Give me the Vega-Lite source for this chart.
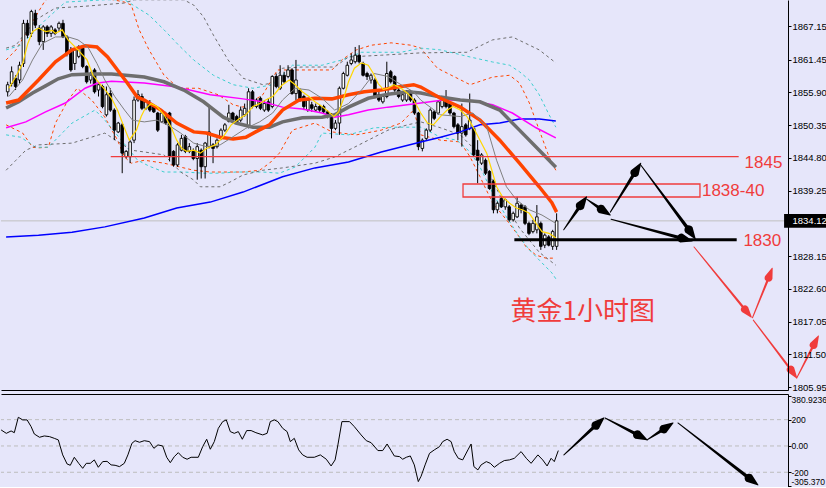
{
"$schema":"https://vega.github.io/schema/vega-lite/v6.json",
"usermeta":{"embedOptions":{"actions":false}},
"background":"#E6E6FA",
"padding":0,
"spacing":2,
"config":{"view":{"stroke":null},"axis":{"grid":false,"labelFont":"Liberation Sans","labelOverlap":false}},
"datasets":{
"candles":[
{"i":0,"o":1856.0,"h":1857.7,"l":1855.2,"c":1857.2},{"i":1,"o":1857.4,"h":1860.3,"l":1856.9,"c":1859.4},{"i":2,"o":1858.3,"h":1858.8,"l":1856.3,"c":1856.9},{"i":3,"o":1858.0,"h":1861.1,"l":1857.4,"c":1860.5},{"i":4,"o":1860.8,"h":1868.2,"l":1860.2,"c":1867.6},{"i":5,"o":1867.6,"h":1868.2,"l":1865.1,"c":1865.6},{"i":6,"o":1865.9,"h":1869.9,"l":1865.3,"c":1869.6},{"i":7,"o":1869.3,"h":1869.9,"l":1866.8,"c":1867.3},{"i":8,"o":1866.8,"h":1867.3,"l":1863.9,"c":1864.5},{"i":9,"o":1864.5,"h":1867.3,"l":1863.1,"c":1867.0},
{"i":10,"o":1867.0,"h":1867.3,"l":1865.3,"c":1865.9},{"i":11,"o":1865.9,"h":1867.3,"l":1865.3,"c":1867.0},{"i":12,"o":1866.5,"h":1866.8,"l":1865.6,"c":1865.9},{"i":13,"o":1866.8,"h":1867.9,"l":1866.2,"c":1867.6},{"i":14,"o":1867.6,"h":1868.2,"l":1865.1,"c":1865.3},{"i":15,"o":1865.3,"h":1865.6,"l":1862.0,"c":1862.5},{"i":16,"o":1863.1,"h":1863.6,"l":1859.4,"c":1859.7},{"i":17,"o":1860.8,"h":1863.4,"l":1859.7,"c":1863.1},{"i":18,"o":1862.0,"h":1863.9,"l":1861.7,"c":1863.6},{"i":19,"o":1863.4,"h":1863.6,"l":1860.0,"c":1860.3},
{"i":20,"o":1860.3,"h":1860.5,"l":1857.4,"c":1857.7},{"i":21,"o":1858.0,"h":1859.4,"l":1857.4,"c":1858.8},{"i":22,"o":1859.7,"h":1860.0,"l":1855.7,"c":1856.0},{"i":23,"o":1856.3,"h":1857.4,"l":1855.2,"c":1857.2},{"i":24,"o":1856.9,"h":1857.2,"l":1853.2,"c":1853.5},{"i":25,"o":1852.1,"h":1856.9,"l":1851.8,"c":1855.5},{"i":26,"o":1855.7,"h":1856.6,"l":1852.6,"c":1852.9},{"i":27,"o":1852.9,"h":1853.2,"l":1847.8,"c":1849.5},{"i":28,"o":1849.2,"h":1850.9,"l":1849.0,"c":1850.7},{"i":29,"o":1850.4,"h":1850.7,"l":1842.2,"c":1845.6},
{"i":30,"o":1845.0,"h":1846.1,"l":1844.7,"c":1845.9},{"i":31,"o":1845.0,"h":1847.8,"l":1843.9,"c":1847.5},{"i":32,"o":1847.8,"h":1855.2,"l":1847.3,"c":1854.6},{"i":33,"o":1854.6,"h":1856.3,"l":1854.3,"c":1855.5},{"i":34,"o":1855.2,"h":1855.7,"l":1852.9,"c":1853.2},{"i":35,"o":1853.2,"h":1854.6,"l":1852.9,"c":1854.3},{"i":36,"o":1854.0,"h":1854.6,"l":1852.6,"c":1852.9},{"i":37,"o":1853.5,"h":1853.8,"l":1852.4,"c":1852.6},{"i":38,"o":1852.4,"h":1852.6,"l":1849.2,"c":1849.5},{"i":39,"o":1850.9,"h":1852.9,"l":1850.7,"c":1852.4},
{"i":40,"o":1852.1,"h":1852.6,"l":1850.4,"c":1850.7},{"i":41,"o":1852.4,"h":1852.6,"l":1844.2,"c":1845.0},{"i":42,"o":1845.9,"h":1846.1,"l":1843.3,"c":1843.6},{"i":43,"o":1843.6,"h":1847.3,"l":1843.3,"c":1847.0},{"i":44,"o":1846.1,"h":1848.7,"l":1845.9,"c":1848.1},{"i":45,"o":1848.4,"h":1848.7,"l":1845.6,"c":1845.9},{"i":46,"o":1845.9,"h":1847.3,"l":1845.6,"c":1846.7},{"i":47,"o":1845.9,"h":1846.4,"l":1844.4,"c":1844.7},{"i":48,"o":1844.7,"h":1847.3,"l":1841.1,"c":1846.7},{"i":49,"o":1846.1,"h":1846.4,"l":1841.3,"c":1843.3},
{"i":50,"o":1843.3,"h":1847.5,"l":1841.3,"c":1847.3},{"i":51,"o":1846.7,"h":1853.5,"l":1846.4,"c":1849.2},{"i":52,"o":1847.0,"h":1847.3,"l":1843.9,"c":1846.4},{"i":53,"o":1846.7,"h":1848.1,"l":1846.4,"c":1847.8},{"i":54,"o":1848.1,"h":1849.8,"l":1847.8,"c":1849.5},{"i":55,"o":1849.5,"h":1850.7,"l":1849.2,"c":1850.4},{"i":56,"o":1851.0,"h":1853.8,"l":1850.8,"c":1852.4},{"i":57,"o":1852.4,"h":1852.6,"l":1850.9,"c":1851.2},{"i":58,"o":1851.8,"h":1852.1,"l":1850.4,"c":1850.7},{"i":59,"o":1851.2,"h":1853.5,"l":1850.9,"c":1852.9},
{"i":60,"o":1852.1,"h":1854.0,"l":1851.8,"c":1853.2},{"i":61,"o":1850.1,"h":1856.6,"l":1849.8,"c":1856.0},{"i":62,"o":1856.0,"h":1856.3,"l":1853.2,"c":1853.5},{"i":63,"o":1853.5,"h":1854.9,"l":1853.2,"c":1854.6},{"i":64,"o":1854.9,"h":1855.2,"l":1852.9,"c":1853.2},{"i":65,"o":1852.9,"h":1854.6,"l":1852.6,"c":1854.0},{"i":66,"o":1854.3,"h":1854.9,"l":1852.6,"c":1852.9},{"i":67,"o":1853.5,"h":1858.8,"l":1853.2,"c":1858.6},{"i":68,"o":1858.6,"h":1859.1,"l":1856.6,"c":1856.9},{"i":69,"o":1856.6,"h":1860.5,"l":1856.3,"c":1858.8},
{"i":70,"o":1858.8,"h":1859.4,"l":1857.4,"c":1857.7},{"i":71,"o":1858.6,"h":1860.5,"l":1858.3,"c":1859.7},{"i":72,"o":1859.7,"h":1860.0,"l":1855.5,"c":1855.7},{"i":73,"o":1855.7,"h":1861.4,"l":1854.6,"c":1858.0},{"i":74,"o":1856.3,"h":1856.6,"l":1854.3,"c":1854.6},{"i":75,"o":1855.2,"h":1855.5,"l":1852.9,"c":1853.5},{"i":76,"o":1852.9,"h":1854.9,"l":1852.6,"c":1854.6},{"i":77,"o":1853.8,"h":1854.3,"l":1852.6,"c":1853.2},{"i":78,"o":1852.9,"h":1854.0,"l":1852.6,"c":1853.5},{"i":79,"o":1853.5,"h":1853.8,"l":1852.6,"c":1852.9},
{"i":80,"o":1853.5,"h":1853.8,"l":1852.4,"c":1852.6},{"i":81,"o":1852.6,"h":1852.9,"l":1851.5,"c":1851.8},{"i":82,"o":1852.1,"h":1852.4,"l":1848.1,"c":1849.8},{"i":83,"o":1849.8,"h":1851.2,"l":1849.5,"c":1850.7},{"i":84,"o":1850.7,"h":1856.9,"l":1848.7,"c":1856.6},{"i":85,"o":1856.6,"h":1859.4,"l":1856.4,"c":1859.1},{"i":86,"o":1858.8,"h":1861.1,"l":1858.6,"c":1860.5},{"i":87,"o":1860.8,"h":1862.5,"l":1860.5,"c":1861.4},{"i":88,"o":1861.1,"h":1863.6,"l":1860.8,"c":1862.2},{"i":89,"o":1862.2,"h":1863.9,"l":1860.8,"c":1861.1},
{"i":90,"o":1860.8,"h":1861.1,"l":1858.6,"c":1858.8},{"i":91,"o":1859.1,"h":1859.4,"l":1858.0,"c":1858.6},{"i":92,"o":1858.0,"h":1859.1,"l":1857.4,"c":1858.8},{"i":93,"o":1858.0,"h":1858.3,"l":1854.9,"c":1855.2},{"i":94,"o":1855.5,"h":1856.0,"l":1854.3,"c":1854.6},{"i":95,"o":1854.3,"h":1855.5,"l":1854.0,"c":1855.2},{"i":96,"o":1855.2,"h":1861.1,"l":1854.9,"c":1859.1},{"i":97,"o":1859.4,"h":1859.7,"l":1857.4,"c":1857.7},{"i":98,"o":1858.6,"h":1858.8,"l":1856.0,"c":1856.3},{"i":99,"o":1856.3,"h":1856.6,"l":1854.9,"c":1855.2},
{"i":100,"o":1854.6,"h":1855.7,"l":1854.3,"c":1855.5},{"i":101,"o":1854.6,"h":1856.3,"l":1854.3,"c":1856.0},{"i":102,"o":1855.7,"h":1856.3,"l":1854.3,"c":1854.6},{"i":103,"o":1854.6,"h":1854.9,"l":1852.1,"c":1852.4},{"i":104,"o":1852.4,"h":1852.6,"l":1846.1,"c":1846.7},{"i":105,"o":1846.4,"h":1848.1,"l":1845.9,"c":1847.8},{"i":106,"o":1848.1,"h":1849.8,"l":1847.8,"c":1849.5},{"i":107,"o":1849.5,"h":1853.2,"l":1849.2,"c":1852.9},{"i":108,"o":1852.6,"h":1852.9,"l":1851.2,"c":1851.5},{"i":109,"o":1852.4,"h":1854.6,"l":1852.1,"c":1854.3},
{"i":110,"o":1853.5,"h":1855.2,"l":1853.2,"c":1854.6},{"i":111,"o":1854.9,"h":1856.3,"l":1853.2,"c":1853.5},{"i":112,"o":1854.0,"h":1854.3,"l":1852.1,"c":1852.4},{"i":113,"o":1852.4,"h":1852.6,"l":1849.8,"c":1850.1},{"i":114,"o":1850.4,"h":1850.7,"l":1847.8,"c":1849.0},{"i":115,"o":1849.0,"h":1854.0,"l":1846.7,"c":1850.1},{"i":116,"o":1850.4,"h":1850.7,"l":1848.4,"c":1848.7},{"i":117,"o":1849.8,"h":1855.7,"l":1849.5,"c":1851.2},{"i":118,"o":1849.8,"h":1850.1,"l":1845.0,"c":1845.3},{"i":119,"o":1846.1,"h":1847.8,"l":1840.5,"c":1844.4},
{"i":120,"o":1843.9,"h":1845.6,"l":1843.6,"c":1845.3},{"i":121,"o":1844.4,"h":1844.7,"l":1841.9,"c":1842.2},{"i":122,"o":1842.5,"h":1842.7,"l":1839.4,"c":1839.6},{"i":123,"o":1840.8,"h":1841.1,"l":1835.4,"c":1836.0},{"i":124,"o":1836.0,"h":1837.4,"l":1835.4,"c":1837.1},{"i":125,"o":1837.9,"h":1838.2,"l":1836.3,"c":1836.5},{"i":126,"o":1836.5,"h":1837.9,"l":1836.0,"c":1837.7},{"i":127,"o":1836.5,"h":1836.8,"l":1834.0,"c":1834.3},{"i":128,"o":1834.3,"h":1835.7,"l":1834.0,"c":1835.4},{"i":129,"o":1834.8,"h":1838.2,"l":1834.6,"c":1837.1},
{"i":130,"o":1836.8,"h":1837.1,"l":1835.4,"c":1836.0},{"i":131,"o":1836.5,"h":1836.8,"l":1833.4,"c":1833.7},{"i":132,"o":1833.7,"h":1834.0,"l":1831.7,"c":1832.0},{"i":133,"o":1832.3,"h":1834.3,"l":1832.0,"c":1833.7},{"i":134,"o":1832.6,"h":1836.8,"l":1832.0,"c":1834.8},{"i":135,"o":1833.7,"h":1834.0,"l":1829.2,"c":1829.8},{"i":136,"o":1830.0,"h":1832.0,"l":1829.5,"c":1831.7},{"i":137,"o":1831.4,"h":1831.7,"l":1829.8,"c":1830.0},{"i":138,"o":1829.8,"h":1832.6,"l":1829.2,"c":1832.3},{"i":139,"o":1829.8,"h":1835.4,"l":1829.2,"c":1834.12}
],
"bands":[
{"s":"bb1u","i":-0.4,"p":1861.4},{"s":"bb1u","i":2.1,"p":1863.1},{"s":"bb1u","i":5.8,"p":1867.3},{"s":"bb1u","i":9.6,"p":1871.6},{"s":"bb1u","i":14.6,"p":1872.1},{"s":"bb1u","i":24.6,"p":1871.9},{"s":"bb1u","i":29.6,"p":1871.2},{"s":"bb1u","i":31.3,"p":1870.7},{"s":"bb1u","i":33.3,"p":1866.5},{"s":"bb1u","i":35.8,"p":1863.1},{"s":"bb1u","i":39.6,"p":1858.8},{"s":"bb1u","i":43.3,"p":1856.6},{"s":"bb1u","i":48.3,"p":1856.6},{"s":"bb1u","i":53.3,"p":1855.5},{"s":"bb1u","i":57.1,"p":1853.8},{"s":"bb1u","i":59.6,"p":1853.4},{"s":"bb1u","i":64.6,"p":1855.5},{"s":"bb1u","i":68.3,"p":1859.7},{"s":"bb1u","i":72.1,"p":1859.7},{"s":"bb1u","i":82.1,"p":1859.7},{"s":"bb1u","i":84.6,"p":1861.4},{"s":"bb1u","i":88.3,"p":1863.1},{"s":"bb1u","i":92.1,"p":1863.9},{"s":"bb1u","i":97.1,"p":1864.3},{"s":"bb1u","i":102.1,"p":1863.9},{"s":"bb1u","i":104.6,"p":1863.4},{"s":"bb1u","i":108.8,"p":1860.0},{"s":"bb1u","i":117.1,"p":1857.2},{"s":"bb1u","i":122.8,"p":1858.5},{"s":"bb1u","i":127.1,"p":1858.8},{"s":"bb1u","i":129.6,"p":1857.5},{"s":"bb1u","i":132.1,"p":1854.1},{"s":"bb1u","i":134.6,"p":1849.5},{"s":"bb1u","i":137.1,"p":1844.95},{"s":"bb1u","i":138.8,"p":1842.7},
{"s":"bb1l","i":-0.4,"p":1850.4},{"s":"bb1l","i":3.8,"p":1849.0},{"s":"bb1l","i":6.3,"p":1846.6},{"s":"bb1l","i":7.8,"p":1846.5},{"s":"bb1l","i":10.3,"p":1846.6},{"s":"bb1l","i":12.1,"p":1850.7},{"s":"bb1l","i":15.3,"p":1854.6},{"s":"bb1l","i":17.6,"p":1856.6},{"s":"bb1l","i":21.3,"p":1854.6},{"s":"bb1l","i":24.6,"p":1851.7},{"s":"bb1l","i":27.8,"p":1847.8},{"s":"bb1l","i":29.6,"p":1844.95},{"s":"bb1l","i":31.3,"p":1843.9},{"s":"bb1l","i":34.6,"p":1844.4},{"s":"bb1l","i":39.6,"p":1843.9},{"s":"bb1l","i":47.1,"p":1842.7},{"s":"bb1l","i":51.3,"p":1842.4},{"s":"bb1l","i":59.6,"p":1842.4},{"s":"bb1l","i":63.8,"p":1842.7},{"s":"bb1l","i":66.3,"p":1843.9},{"s":"bb1l","i":68.8,"p":1845.6},{"s":"bb1l","i":72.1,"p":1849.5},{"s":"bb1l","i":77.8,"p":1850.7},{"s":"bb1l","i":82.1,"p":1849.2},{"s":"bb1l","i":88.3,"p":1848.7},{"s":"bb1l","i":94.6,"p":1849.5},{"s":"bb1l","i":99.6,"p":1850.7},{"s":"bb1l","i":102.8,"p":1852.9},{"s":"bb1l","i":104.6,"p":1848.7},{"s":"bb1l","i":109.6,"p":1847.8},{"s":"bb1l","i":114.6,"p":1847.5},{"s":"bb1l","i":117.1,"p":1844.95},{"s":"bb1l","i":119.6,"p":1841.6},{"s":"bb1l","i":122.8,"p":1837.15},{"s":"bb1l","i":126.3,"p":1834.3},{"s":"bb1l","i":128.8,"p":1832.1},{"s":"bb1l","i":131.3,"p":1829.7},{"s":"bb1l","i":133.8,"p":1828.3},{"s":"bb1l","i":136.3,"p":1827.8},{"s":"bb1l","i":138.8,"p":1827.8},
{"s":"bb2u","i":-0.4,"p":1863.1},{"s":"bb2u","i":3.3,"p":1863.9},{"s":"bb2u","i":9.6,"p":1868.2},{"s":"bb2u","i":14.6,"p":1871.2},{"s":"bb2u","i":24.6,"p":1871.6},{"s":"bb2u","i":29.6,"p":1871.6},{"s":"bb2u","i":35.8,"p":1869.0},{"s":"bb2u","i":39.6,"p":1866.5},{"s":"bb2u","i":43.3,"p":1863.9},{"s":"bb2u","i":47.1,"p":1861.4},{"s":"bb2u","i":52.1,"p":1858.8},{"s":"bb2u","i":57.1,"p":1857.2},{"s":"bb2u","i":62.1,"p":1856.6},{"s":"bb2u","i":67.1,"p":1857.2},{"s":"bb2u","i":72.1,"p":1860.5},{"s":"bb2u","i":79.6,"p":1860.5},{"s":"bb2u","i":84.6,"p":1861.4},{"s":"bb2u","i":89.6,"p":1862.7},{"s":"bb2u","i":99.6,"p":1862.7},{"s":"bb2u","i":104.6,"p":1863.4},{"s":"bb2u","i":109.6,"p":1863.1},{"s":"bb2u","i":117.1,"p":1861.9},{"s":"bb2u","i":122.8,"p":1861.05},{"s":"bb2u","i":127.1,"p":1860.5},{"s":"bb2u","i":129.6,"p":1859.4},{"s":"bb2u","i":132.1,"p":1858.0},{"s":"bb2u","i":134.6,"p":1855.5},{"s":"bb2u","i":137.1,"p":1852.1},{"s":"bb2u","i":138.8,"p":1850.0},
{"s":"bb2l","i":-0.4,"p":1848.7},{"s":"bb2l","i":3.3,"p":1848.3},{"s":"bb2l","i":7.1,"p":1846.6},{"s":"bb2l","i":10.3,"p":1846.6},{"s":"bb2l","i":16.3,"p":1850.7},{"s":"bb2l","i":22.1,"p":1852.9},{"s":"bb2l","i":24.6,"p":1851.2},{"s":"bb2l","i":28.8,"p":1847.8},{"s":"bb2l","i":32.9,"p":1844.4},{"s":"bb2l","i":35.8,"p":1843.4},{"s":"bb2l","i":39.6,"p":1842.4},{"s":"bb2l","i":44.6,"p":1842.4},{"s":"bb2l","i":49.6,"p":1842.2},{"s":"bb2l","i":53.8,"p":1842.2},{"s":"bb2l","i":57.8,"p":1842.4},{"s":"bb2l","i":64.6,"p":1842.4},{"s":"bb2l","i":68.8,"p":1842.2},{"s":"bb2l","i":72.8,"p":1843.25},{"s":"bb2l","i":77.8,"p":1846.6},{"s":"bb2l","i":79.6,"p":1849.0},{"s":"bb2l","i":86.3,"p":1848.7},{"s":"bb2l","i":92.8,"p":1849.9},{"s":"bb2l","i":98.8,"p":1850.0},{"s":"bb2l","i":104.6,"p":1850.0},{"s":"bb2l","i":109.6,"p":1848.3},{"s":"bb2l","i":113.8,"p":1847.8},{"s":"bb2l","i":117.1,"p":1845.8},{"s":"bb2l","i":119.6,"p":1843.25},{"s":"bb2l","i":122.8,"p":1838.85},{"s":"bb2l","i":126.3,"p":1834.8},{"s":"bb2l","i":129.6,"p":1831.4},{"s":"bb2l","i":132.1,"p":1829.2},{"s":"bb2l","i":135.3,"p":1827.0},{"s":"bb2l","i":137.8,"p":1825.3},{"s":"bb2l","i":139,"p":1824.1},
{"s":"bb3u","i":-0.4,"p":1863.4},{"s":"bb3u","i":2.1,"p":1863.9},{"s":"bb3u","i":7.1,"p":1868.2},{"s":"bb3u","i":12.1,"p":1870.2},{"s":"bb3u","i":19.6,"p":1870.5},{"s":"bb3u","i":29.6,"p":1871.05},{"s":"bb3u","i":32.1,"p":1871.6},{"s":"bb3u","i":44.6,"p":1871.6},{"s":"bb3u","i":47.1,"p":1870.7},{"s":"bb3u","i":49.6,"p":1868.7},{"s":"bb3u","i":52.1,"p":1865.6},{"s":"bb3u","i":55.8,"p":1861.4},{"s":"bb3u","i":59.6,"p":1858.3},{"s":"bb3u","i":64.6,"p":1857.2},{"s":"bb3u","i":67.1,"p":1857.5},{"s":"bb3u","i":69.6,"p":1860.0},{"s":"bb3u","i":74.6,"p":1860.2},{"s":"bb3u","i":82.8,"p":1860.2},{"s":"bb3u","i":86.3,"p":1861.9},{"s":"bb3u","i":94.6,"p":1862.2},{"s":"bb3u","i":104.6,"p":1862.6},{"s":"bb3u","i":116.3,"p":1862.7},{"s":"bb3u","i":122.8,"p":1864.8},{"s":"bb3u","i":127.8,"p":1865.3},{"s":"bb3u","i":134.6,"p":1863.1},{"s":"bb3u","i":138.8,"p":1860.9},
{"s":"bb3l","i":-0.4,"p":1842.7},{"s":"bb3l","i":2.1,"p":1844.4},{"s":"bb3l","i":4.6,"p":1846.1},{"s":"bb3l","i":7.8,"p":1847.0},{"s":"bb3l","i":16.3,"p":1847.3},{"s":"bb3l","i":24.6,"p":1849.0},{"s":"bb3l","i":31.3,"p":1846.1},{"s":"bb3l","i":34.6,"p":1845.8},{"s":"bb3l","i":39.6,"p":1845.3},{"s":"bb3l","i":43.8,"p":1842.4},{"s":"bb3l","i":47.1,"p":1841.05},{"s":"bb3l","i":48.8,"p":1839.9},{"s":"bb3l","i":53.8,"p":1839.9},{"s":"bb3l","i":56.3,"p":1840.7},{"s":"bb3l","i":59.6,"p":1841.9},{"s":"bb3l","i":64.6,"p":1842.7},{"s":"bb3l","i":69.6,"p":1843.1},{"s":"bb3l","i":77.8,"p":1843.9},{"s":"bb3l","i":82.8,"p":1844.95},{"s":"bb3l","i":87.8,"p":1846.6},{"s":"bb3l","i":91.3,"p":1847.8},{"s":"bb3l","i":96.3,"p":1849.5},{"s":"bb3l","i":101.3,"p":1850.4},{"s":"bb3l","i":104.6,"p":1850.9},{"s":"bb3l","i":109.6,"p":1849.9},{"s":"bb3l","i":114.6,"p":1848.7},{"s":"bb3l","i":119.6,"p":1845.3},{"s":"bb3l","i":124.6,"p":1838.5},{"s":"bb3l","i":129.6,"p":1832.9},{"s":"bb3l","i":134.6,"p":1828.8},{"s":"bb3l","i":138.8,"p":1826.6}
],
"mas":[
{"s":"ma200","i":-0.4,"p":1831.4},{"s":"ma200","i":7.8,"p":1831.7},{"s":"ma200","i":16.3,"p":1832.2},{"s":"ma200","i":24.6,"p":1833.1},{"s":"ma200","i":34.6,"p":1834.6},{"s":"ma200","i":42.8,"p":1836.3},{"s":"ma200","i":51.3,"p":1837.3},{"s":"ma200","i":59.6,"p":1839.0},{"s":"ma200","i":69.6,"p":1841.6},{"s":"ma200","i":77.8,"p":1843.1},{"s":"ma200","i":86.3,"p":1844.1},{"s":"ma200","i":94.6,"p":1845.8},{"s":"ma200","i":104.6,"p":1847.5},{"s":"ma200","i":109.6,"p":1848.3},{"s":"ma200","i":114.6,"p":1849.2},{"s":"ma200","i":119.6,"p":1850.4},{"s":"ma200","i":124.6,"p":1850.7},{"s":"ma200","i":129.6,"p":1851.4},{"s":"ma200","i":134.6,"p":1851.4},{"s":"ma200","i":138.8,"p":1851.05},
{"s":"ma100","i":-0.4,"p":1849.9},{"s":"ma100","i":4.6,"p":1850.9},{"s":"ma100","i":9.6,"p":1852.6},{"s":"ma100","i":14.6,"p":1854.1},{"s":"ma100","i":19.6,"p":1856.6},{"s":"ma100","i":22.8,"p":1857.5},{"s":"ma100","i":26.3,"p":1857.8},{"s":"ma100","i":34.6,"p":1857.5},{"s":"ma100","i":42.8,"p":1856.8},{"s":"ma100","i":51.3,"p":1855.5},{"s":"ma100","i":59.6,"p":1854.8},{"s":"ma100","i":64.6,"p":1854.3},{"s":"ma100","i":69.6,"p":1853.4},{"s":"ma100","i":74.6,"p":1853.1},{"s":"ma100","i":79.6,"p":1852.4},{"s":"ma100","i":82.8,"p":1851.7},{"s":"ma100","i":86.3,"p":1852.1},{"s":"ma100","i":91.3,"p":1852.9},{"s":"ma100","i":96.3,"p":1853.4},{"s":"ma100","i":104.6,"p":1854.1},{"s":"ma100","i":110.3,"p":1854.6},{"s":"ma100","i":116.3,"p":1854.6},{"s":"ma100","i":122.8,"p":1853.8},{"s":"ma100","i":127.8,"p":1852.4},{"s":"ma100","i":133.8,"p":1849.9},{"s":"ma100","i":138.8,"p":1848.2},
{"s":"ma60","i":-0.4,"p":1853.25},{"s":"ma60","i":2.8,"p":1854.3},{"s":"ma60","i":6.3,"p":1855.8},{"s":"ma60","i":9.6,"p":1857.0},{"s":"ma60","i":12.8,"p":1858.2},{"s":"ma60","i":16.3,"p":1858.9},{"s":"ma60","i":21.3,"p":1859.0},{"s":"ma60","i":26.3,"p":1859.0},{"s":"ma60","i":31.3,"p":1858.7},{"s":"ma60","i":34.6,"p":1858.5},{"s":"ma60","i":39.6,"p":1857.7},{"s":"ma60","i":44.6,"p":1856.3},{"s":"ma60","i":49.6,"p":1854.3},{"s":"ma60","i":54.6,"p":1851.7},{"s":"ma60","i":57.8,"p":1850.7},{"s":"ma60","i":62.1,"p":1850.0},{"s":"ma60","i":66.3,"p":1850.0},{"s":"ma60","i":69.6,"p":1850.9},{"s":"ma60","i":74.6,"p":1851.6},{"s":"ma60","i":79.6,"p":1851.7},{"s":"ma60","i":82.8,"p":1852.1},{"s":"ma60","i":86.3,"p":1853.4},{"s":"ma60","i":91.3,"p":1854.9},{"s":"ma60","i":96.3,"p":1855.6},{"s":"ma60","i":101.3,"p":1856.0},{"s":"ma60","i":104.6,"p":1855.8},{"s":"ma60","i":109.6,"p":1855.1},{"s":"ma60","i":114.6,"p":1854.6},{"s":"ma60","i":119.6,"p":1854.3},{"s":"ma60","i":124.6,"p":1852.9},{"s":"ma60","i":129.6,"p":1849.5},{"s":"ma60","i":134.6,"p":1846.1},{"s":"ma60","i":138.8,"p":1843.2},
{"s":"ma20","i":-0.4,"p":1854.1},{"s":"ma20","i":2.8,"p":1854.6},{"s":"ma20","i":7.8,"p":1858.0},{"s":"ma20","i":12.1,"p":1861.1},{"s":"ma20","i":16.3,"p":1863.1},{"s":"ma20","i":19.6,"p":1863.8},{"s":"ma20","i":22.6,"p":1863.6},{"s":"ma20","i":25.3,"p":1861.9},{"s":"ma20","i":27.8,"p":1859.7},{"s":"ma20","i":30.3,"p":1857.5},{"s":"ma20","i":32.8,"p":1855.1},{"s":"ma20","i":34.6,"p":1854.6},{"s":"ma20","i":38.8,"p":1852.9},{"s":"ma20","i":42.8,"p":1850.7},{"s":"ma20","i":47.1,"p":1849.2},{"s":"ma20","i":50.3,"p":1849.0},{"s":"ma20","i":53.8,"p":1848.3},{"s":"ma20","i":57.1,"p":1848.0},{"s":"ma20","i":60.3,"p":1848.3},{"s":"ma20","i":62.8,"p":1849.2},{"s":"ma20","i":66.3,"p":1850.4},{"s":"ma20","i":69.6,"p":1852.9},{"s":"ma20","i":73.8,"p":1854.6},{"s":"ma20","i":77.8,"p":1854.9},{"s":"ma20","i":82.1,"p":1854.8},{"s":"ma20","i":86.3,"p":1855.5},{"s":"ma20","i":90.3,"p":1856.0},{"s":"ma20","i":94.6,"p":1856.3},{"s":"ma20","i":98.8,"p":1856.8},{"s":"ma20","i":102.8,"p":1857.2},{"s":"ma20","i":104.6,"p":1856.8},{"s":"ma20","i":109.6,"p":1854.9},{"s":"ma20","i":114.6,"p":1853.4},{"s":"ma20","i":119.6,"p":1851.2},{"s":"ma20","i":124.6,"p":1847.8},{"s":"ma20","i":129.6,"p":1843.9},{"s":"ma20","i":134.6,"p":1839.9},{"s":"ma20","i":137.8,"p":1837.2},{"s":"ma20","i":139,"p":1835.6},
{"s":"ma10","i":0.3,"p":1855.2},{"s":"ma10","i":3.8,"p":1858.0},{"s":"ma10","i":6.3,"p":1861.4},{"s":"ma10","i":8.8,"p":1864.2},{"s":"ma10","i":12.1,"p":1865.3},{"s":"ma10","i":15.3,"p":1865.3},{"s":"ma10","i":17.8,"p":1864.8},{"s":"ma10","i":20.3,"p":1863.6},{"s":"ma10","i":22.6,"p":1860.8},{"s":"ma10","i":24.6,"p":1858.0},{"s":"ma10","i":27.1,"p":1855.2},{"s":"ma10","i":29.6,"p":1852.9},{"s":"ma10","i":31.6,"p":1851.2},{"s":"ma10","i":34.6,"p":1850.9},{"s":"ma10","i":37.8,"p":1851.2},{"s":"ma10","i":41.3,"p":1850.1},{"s":"ma10","i":43.8,"p":1849.0},{"s":"ma10","i":47.1,"p":1847.3},{"s":"ma10","i":50.3,"p":1846.7},{"s":"ma10","i":53.8,"p":1847.0},{"s":"ma10","i":57.1,"p":1848.4},{"s":"ma10","i":60.3,"p":1849.8},{"s":"ma10","i":63.8,"p":1850.9},{"s":"ma10","i":67.1,"p":1852.4},{"s":"ma10","i":69.6,"p":1854.6},{"s":"ma10","i":72.8,"p":1856.6},{"s":"ma10","i":76.3,"p":1856.3},{"s":"ma10","i":79.6,"p":1854.9},{"s":"ma10","i":82.8,"p":1852.9},{"s":"ma10","i":86.3,"p":1854.0},{"s":"ma10","i":89.6,"p":1856.3},{"s":"ma10","i":92.8,"p":1859.1},{"s":"ma10","i":96.3,"p":1858.6},{"s":"ma10","i":99.6,"p":1857.2},{"s":"ma10","i":102.8,"p":1856.0},{"s":"ma10","i":104.6,"p":1854.6},{"s":"ma10","i":109.6,"p":1852.1},{"s":"ma10","i":114.6,"p":1851.8},{"s":"ma10","i":117.8,"p":1852.4},{"s":"ma10","i":121.3,"p":1850.1},{"s":"ma10","i":123.8,"p":1844.4},{"s":"ma10","i":126.3,"p":1839.9},{"s":"ma10","i":128.8,"p":1837.7},{"s":"ma10","i":132.1,"p":1836.0},{"s":"ma10","i":135.3,"p":1835.1},{"s":"ma10","i":138.8,"p":1833.7},
{"s":"ma5","i":0.3,"p":1856.6},{"s":"ma5","i":2.1,"p":1858.6},{"s":"ma5","i":3.8,"p":1860.8},{"s":"ma5","i":5.1,"p":1864.2},{"s":"ma5","i":6.3,"p":1866.2},{"s":"ma5","i":7.8,"p":1866.8},{"s":"ma5","i":9.6,"p":1866.2},{"s":"ma5","i":11.3,"p":1866.4},{"s":"ma5","i":12.1,"p":1865.9},{"s":"ma5","i":13.8,"p":1866.5},{"s":"ma5","i":15.3,"p":1864.8},{"s":"ma5","i":17.8,"p":1863.1},{"s":"ma5","i":20.1,"p":1861.4},{"s":"ma5","i":21.6,"p":1858.8},{"s":"ma5","i":23.3,"p":1857.4},{"s":"ma5","i":25.1,"p":1856.0},{"s":"ma5","i":26.3,"p":1854.9},{"s":"ma5","i":27.8,"p":1852.9},{"s":"ma5","i":29.6,"p":1849.8},{"s":"ma5","i":30.8,"p":1847.8},{"s":"ma5","i":32.6,"p":1849.5},{"s":"ma5","i":33.8,"p":1851.8},{"s":"ma5","i":34.6,"p":1852.9},{"s":"ma5","i":36.3,"p":1854.0},{"s":"ma5","i":37.8,"p":1853.5},{"s":"ma5","i":39.6,"p":1852.1},{"s":"ma5","i":41.3,"p":1850.1},{"s":"ma5","i":42.8,"p":1847.8},{"s":"ma5","i":44.1,"p":1846.4},{"s":"ma5","i":45.3,"p":1845.9},{"s":"ma5","i":47.1,"p":1846.1},{"s":"ma5","i":48.8,"p":1845.6},{"s":"ma5","i":50.3,"p":1846.4},{"s":"ma5","i":52.6,"p":1847.0},{"s":"ma5","i":54.6,"p":1848.4},{"s":"ma5","i":56.6,"p":1850.4},{"s":"ma5","i":58.8,"p":1851.5},{"s":"ma5","i":60.3,"p":1852.1},{"s":"ma5","i":62.1,"p":1853.5},{"s":"ma5","i":63.8,"p":1854.0},{"s":"ma5","i":65.3,"p":1854.6},{"s":"ma5","i":67.1,"p":1855.2},{"s":"ma5","i":68.8,"p":1856.6},{"s":"ma5","i":69.6,"p":1857.2},{"s":"ma5","i":71.3,"p":1858.0},{"s":"ma5","i":72.8,"p":1857.2},{"s":"ma5","i":74.6,"p":1856.0},{"s":"ma5","i":76.3,"p":1855.2},{"s":"ma5","i":77.8,"p":1854.3},{"s":"ma5","i":79.6,"p":1853.5},{"s":"ma5","i":81.3,"p":1852.6},{"s":"ma5","i":82.6,"p":1851.8},{"s":"ma5","i":83.8,"p":1852.6},{"s":"ma5","i":85.1,"p":1854.9},{"s":"ma5","i":86.3,"p":1857.7},{"s":"ma5","i":87.8,"p":1860.0},{"s":"ma5","i":89.6,"p":1860.9},{"s":"ma5","i":91.3,"p":1860.5},{"s":"ma5","i":92.6,"p":1859.1},{"s":"ma5","i":93.8,"p":1857.4},{"s":"ma5","i":95.1,"p":1856.4},{"s":"ma5","i":96.3,"p":1856.6},{"s":"ma5","i":97.8,"p":1857.2},{"s":"ma5","i":99.6,"p":1856.6},{"s":"ma5","i":101.3,"p":1855.7},{"s":"ma5","i":102.8,"p":1854.6},{"s":"ma5","i":104.6,"p":1852.4},{"s":"ma5","i":106.3,"p":1850.7},{"s":"ma5","i":107.8,"p":1850.4},{"s":"ma5","i":109.6,"p":1851.8},{"s":"ma5","i":111.3,"p":1852.9},{"s":"ma5","i":112.8,"p":1853.5},{"s":"ma5","i":114.6,"p":1852.9},{"s":"ma5","i":116.3,"p":1851.8},{"s":"ma5","i":117.8,"p":1850.1},{"s":"ma5","i":119.6,"p":1847.8},{"s":"ma5","i":121.3,"p":1845.6},{"s":"ma5","i":122.6,"p":1842.7},{"s":"ma5","i":123.8,"p":1839.9},{"s":"ma5","i":125.3,"p":1838.2},{"s":"ma5","i":127.1,"p":1837.1},{"s":"ma5","i":128.8,"p":1836.3},{"s":"ma5","i":130.3,"p":1836.0},{"s":"ma5","i":132.1,"p":1835.4},{"s":"ma5","i":133.8,"p":1833.7},{"s":"ma5","i":135.3,"p":1832.3},{"s":"ma5","i":137.1,"p":1832.0},{"s":"ma5","i":138.8,"p":1831.2}
],
"arrowsMain":[
{"seg":"a","k":0,"i":140.8,"p":1832.6,"part":"s0"},{"seg":"a","k":1,"i":145.0,"p":1836.7,"part":"s1"},{"seg":"ah","k":0,"i":145.0,"p":1836.7,"part":"h0"},{"seg":"ah","k":1,"i":146.6,"p":1838.2,"part":"h1"},
{"seg":"b","k":0,"i":146.6,"p":1837.8,"part":"s0"},{"seg":"b","k":1,"i":150.3,"p":1836.1,"part":"s1"},{"seg":"bh","k":0,"i":150.3,"p":1836.1,"part":"h0"},{"seg":"bh","k":1,"i":152.6,"p":1835.1,"part":"h1"},
{"seg":"c","k":0,"i":152.6,"p":1835.6,"part":"s0"},{"seg":"c","k":1,"i":158.8,"p":1842.3,"part":"s1"},{"seg":"ch","k":0,"i":158.8,"p":1842.3,"part":"h0"},{"seg":"ch","k":1,"i":160.3,"p":1843.9,"part":"h1"},
{"seg":"d","k":0,"i":160.3,"p":1843.6,"part":"s0"},{"seg":"d","k":1,"i":172.5,"p":1832.6,"part":"s1"},{"seg":"dh","k":0,"i":172.5,"p":1832.6,"part":"h0"},{"seg":"dh","k":1,"i":174.1,"p":1831.1,"part":"h1"},
{"seg":"e","k":0,"i":152.8,"p":1834.4,"part":"s0"},{"seg":"e","k":1,"i":170.6,"p":1831.2,"part":"s1"},{"seg":"eh","k":0,"i":170.6,"p":1831.2,"part":"h0"},{"seg":"eh","k":1,"i":173.3,"p":1830.7,"part":"h1"}
],
"arrowsRed":[
{"seg":"f","k":0,"i":173.8,"p":1829.7,"part":"r0"},{"seg":"f","k":1,"i":186.7,"p":1819.1,"part":"r1"},{"seg":"fh","k":0,"i":186.7,"p":1819.1,"part":"q0"},{"seg":"fh","k":1,"i":188.3,"p":1817.8,"part":"q1"},
{"seg":"g","k":0,"i":188.6,"p":1817.7,"part":"r0"},{"seg":"g","k":1,"i":192.7,"p":1824.5,"part":"r1"},{"seg":"gh","k":0,"i":192.7,"p":1824.5,"part":"q0"},{"seg":"gh","k":1,"i":193.6,"p":1826.1,"part":"q1"},
{"seg":"h","k":0,"i":188.8,"p":1817.3,"part":"r0"},{"seg":"h","k":1,"i":198.3,"p":1808.9,"part":"r1"},{"seg":"hh","k":0,"i":198.3,"p":1808.9,"part":"q0"},{"seg":"hh","k":1,"i":199.8,"p":1807.5,"part":"q1"},
{"seg":"j","k":0,"i":199.8,"p":1807.5,"part":"r0"},{"seg":"j","k":1,"i":204.1,"p":1813.1,"part":"r1"},{"seg":"jh","k":0,"i":204.1,"p":1813.1,"part":"q0"},{"seg":"jh","k":1,"i":205.3,"p":1814.6,"part":"q1"}
],
"arrowsCci":[
{"seg":"a","k":0,"i":140.3,"v":-68,"part":"s0"},{"seg":"a","k":1,"i":148.3,"v":156.8,"part":"s1"},{"seg":"ah","k":0,"i":148.3,"v":156.8,"part":"h0"},{"seg":"ah","k":1,"i":150.3,"v":213,"part":"h1"},
{"seg":"b","k":0,"i":150.6,"v":213,"part":"s0"},{"seg":"b","k":1,"i":158.7,"v":84.7,"part":"s1"},{"seg":"bh","k":0,"i":158.7,"v":84.7,"part":"h0"},{"seg":"bh","k":1,"i":161.1,"v":46,"part":"h1"},
{"seg":"c","k":0,"i":161.1,"v":46,"part":"s0"},{"seg":"c","k":1,"i":165.3,"v":129.4,"part":"s1"},{"seg":"ch","k":0,"i":165.3,"v":129.4,"part":"h0"},{"seg":"ch","k":1,"i":167.6,"v":175,"part":"h1"},
{"seg":"d","k":0,"i":168.8,"v":175,"part":"s0"},{"seg":"d","k":1,"i":186.6,"v":-244.8,"part":"s1"},{"seg":"dh","k":0,"i":186.6,"v":-244.8,"part":"h0"},{"seg":"dh","k":1,"i":188.8,"v":-296,"part":"h1"}
],
"cci":[
{"i":-0.4,"v":122},{"i":0.9,"v":96},{"i":2.1,"v":114},{"i":2.9,"v":101},{"i":3.9,"v":218},{"i":5.0,"v":198},{"i":6.1,"v":198},{"i":7.1,"v":147},{"i":7.9,"v":91},{"i":9.2,"v":66},{"i":10.4,"v":76},{"i":11.7,"v":71},{"i":12.9,"v":58},{"i":13.9,"v":46},{"i":15.0,"v":-68},{"i":16.1,"v":-137},{"i":16.9,"v":-147},{"i":17.9,"v":-86},{"i":19.0,"v":-132},{"i":20.0,"v":-170},{"i":20.9,"v":-132},{"i":21.9,"v":-132},{"i":22.9,"v":-106},{"i":23.9,"v":-162},{"i":25.0,"v":-119},{"i":26.1,"v":-117},{"i":27.1,"v":-144},{"i":28.1,"v":-147},{"i":29.2,"v":-157},{"i":30.4,"v":-132},{"i":31.3,"v":-68},{"i":32.3,"v":20},{"i":33.1,"v":40},{"i":34.2,"v":28},{"i":35.4,"v":40},{"i":36.7,"v":33},{"i":37.8,"v":-18},{"i":38.8,"v":8},{"i":40.0,"v":0},{"i":41.0,"v":-86},{"i":41.9,"v":-127},{"i":42.9,"v":-81},{"i":43.9,"v":-51},{"i":45.0,"v":-86},{"i":46.1,"v":-101},{"i":47.1,"v":-86},{"i":48.9,"v":-86},{"i":50.0,"v":-5},{"i":51.0,"v":51},{"i":51.9,"v":-25},{"i":52.9,"v":33},{"i":53.9,"v":134},{"i":55.0,"v":185},{"i":55.9,"v":198},{"i":56.9,"v":109},{"i":57.9,"v":96},{"i":58.9,"v":109},{"i":59.9,"v":51},{"i":61.0,"v":117},{"i":62.1,"v":117},{"i":63.3,"v":101},{"i":65.0,"v":84},{"i":66.1,"v":96},{"i":66.9,"v":185},{"i":67.9,"v":198},{"i":68.8,"v":185},{"i":70.0,"v":134},{"i":71.1,"v":109},{"i":71.9,"v":33},{"i":72.9,"v":58},{"i":74.0,"v":-30},{"i":75.0,"v":-68},{"i":76.1,"v":-86},{"i":77.9,"v":-86},{"i":79.4,"v":-68},{"i":80.9,"v":-101},{"i":82.1,"v":-152},{"i":83.1,"v":-106},{"i":83.8,"v":8},{"i":84.8,"v":185},{"i":86.7,"v":185},{"i":87.9,"v":147},{"i":89.6,"v":84},{"i":90.9,"v":40},{"i":92.1,"v":25},{"i":93.8,"v":-35},{"i":95.0,"v":-35},{"i":96.1,"v":15},{"i":97.1,"v":-35},{"i":97.9,"v":-76},{"i":99.2,"v":-81},{"i":100.0,"v":-101},{"i":100.9,"v":-86},{"i":101.9,"v":-76},{"i":102.9,"v":-144},{"i":103.9,"v":-271},{"i":104.6,"v":-230},{"i":105.6,"v":-144},{"i":106.7,"v":-56},{"i":107.9,"v":-30},{"i":109.2,"v":-5},{"i":110.0,"v":33},{"i":111.1,"v":51},{"i":112.1,"v":33},{"i":112.9,"v":-43},{"i":113.9,"v":-94},{"i":115.0,"v":-106},{"i":116.3,"v":-30},{"i":117.1,"v":15},{"i":117.8,"v":-157},{"i":118.8,"v":-182},{"i":119.6,"v":-144},{"i":120.9,"v":-119},{"i":121.9,"v":-132},{"i":122.9,"v":-162},{"i":124.2,"v":-132},{"i":125.4,"v":-111},{"i":126.7,"v":-106},{"i":127.9,"v":-94},{"i":129.6,"v":-43},{"i":130.9,"v":-94},{"i":132.1,"v":-132},{"i":133.8,"v":-68},{"i":135.0,"v":-106},{"i":136.1,"v":-152},{"i":137.1,"v":-94},{"i":137.9,"v":-119},{"i":138.9,"v":-35}
]
},
"vconcat":[
{
"width":787,"height":390,
"resolve":{"axis":{"x":"independent","y":"independent"}},
"layer":[
{"data":{"values":[{"p":1834.12}]},"mark":{"type":"rule","color":"#C0C0C0","strokeWidth":1},
 "encoding":{"y":{"field":"p","type":"quantitative","scale":{"domain":[1805.45,1871.56],"nice":false,"zero":false},
  "axis":{"orient":"right","title":null,"values":[1867.15,1861.45,1855.9,1850.35,1844.8,1839.25,1834.12,1828.15,1822.6,1817.05,1811.5,1805.95],"format":".2f","labelFontSize":9.5,"labelFont":"Liberation Sans","labelColor":{"condition":{"test":"datum.value == 1834.12","value":"#FFFFFF"},"value":"#000000"},"tickColor":"#000000","tickSize":3,"labelPadding":1,"domainColor":"#000000","labelOverlap":false,"labelFlush":false,"zindex":1}}}},
{"data":{"values":[{"i":196.6,"i2":208,"p":1835.3,"p2":1832.95}]},"mark":{"type":"rect","color":"#000000","clip":false},
 "encoding":{"x":{"field":"i","type":"quantitative","scale":{"domain":[-0.425,196.325],"nice":false,"zero":false},"axis":{"orient":"bottom","labels":false,"ticks":false,"title":null,"domainColor":"#000000","grid":false}},"x2":{"field":"i2"},"y":{"field":"p","type":"quantitative","scale":{"domain":[1805.45,1871.56],"nice":false,"zero":false},"axis":null},"y2":{"field":"p2"}}},
{"data":{"name":"bands"},"mark":{"type":"line","strokeDash":[3,3],"strokeWidth":1,"clip":true},
 "encoding":{"x":{"field":"i","type":"quantitative","scale":{"domain":[-0.425,196.325],"nice":false,"zero":false},"axis":null},"y":{"field":"p","type":"quantitative","scale":{"domain":[1805.45,1871.56],"nice":false,"zero":false},"axis":null},
 "color":{"field":"s","type":"nominal","scale":{"domain":["bb1u","bb1l","bb2u","bb2l","bb3u","bb3l","ma200","ma100","ma60","ma20","ma10","ma5"],"range":["#FF4500","#FF4500","#3CCFCF","#3CCFCF","#6E6E6E","#6E6E6E","#0000FF","#FF00FF","#6E6E6E","#FF4500","#808080","#FFD700"]},"legend":null},"order":{"field":"i"}}},
{"data":{"name":"candles"},"mark":{"type":"rule","color":"#000000","strokeWidth":1,"clip":true},
 "encoding":{"x":{"field":"i","type":"quantitative","scale":{"domain":[-0.425,196.325],"nice":false,"zero":false},"axis":null},"y":{"field":"l","type":"quantitative","scale":{"domain":[1805.45,1871.56],"nice":false,"zero":false},"axis":null},"y2":{"field":"h"}}},
{"data":{"name":"candles"},"mark":{"type":"bar","size":2.6,"stroke":"#000000","strokeWidth":0.9,"clip":true},
 "encoding":{"x":{"field":"i","type":"quantitative","scale":{"domain":[-0.425,196.325],"nice":false,"zero":false},"axis":null},"y":{"field":"o","type":"quantitative","scale":{"domain":[1805.45,1871.56],"nice":false,"zero":false},"axis":null},"y2":{"field":"c"},
 "fill":{"condition":{"test":"datum.c >= datum.o","value":"#FFFFFF"},"value":"#000000"}}},
{"data":{"name":"mas"},"mark":{"type":"line","clip":true},
 "encoding":{"x":{"field":"i","type":"quantitative","scale":{"domain":[-0.425,196.325],"nice":false,"zero":false},"axis":null},"y":{"field":"p","type":"quantitative","scale":{"domain":[1805.45,1871.56],"nice":false,"zero":false},"axis":null},
 "color":{"field":"s","type":"nominal","scale":{"domain":["bb1u","bb1l","bb2u","bb2l","bb3u","bb3l","ma200","ma100","ma60","ma20","ma10","ma5"],"range":["#FF4500","#FF4500","#3CCFCF","#3CCFCF","#6E6E6E","#6E6E6E","#0000FF","#FF00FF","#6E6E6E","#FF4500","#808080","#FFD700"]},"legend":null},
 "strokeWidth":{"field":"s","type":"ordinal","scale":{"type":"ordinal","domain":["ma200","ma100","ma60","ma20","ma10","ma5"],"range":[1.5,1.5,3.5,3.5,1,1.2]},"legend":null},"order":{"field":"i"}}},
{"data":{"values":[{"i":26.1,"i2":185.1,"p":1845}]},"mark":{"type":"rule","color":"#F03C3C","strokeWidth":1.3,"clip":false},
 "encoding":{"x":{"field":"i","type":"quantitative","scale":{"domain":[-0.425,196.325],"nice":false,"zero":false},"axis":null},"x2":{"field":"i2"},"y":{"field":"p","type":"quantitative","scale":{"domain":[1805.45,1871.56],"nice":false,"zero":false},"axis":null}}},
{"data":{"values":[{"i":128.3,"i2":184.6,"p":1830.9}]},"mark":{"type":"rule","color":"#000000","strokeWidth":3,"clip":false},
 "encoding":{"x":{"field":"i","type":"quantitative","scale":{"domain":[-0.425,196.325],"nice":false,"zero":false},"axis":null},"x2":{"field":"i2"},"y":{"field":"p","type":"quantitative","scale":{"domain":[1805.45,1871.56],"nice":false,"zero":false},"axis":null}}},
{"data":{"values":[{"i":115.3,"i2":175.3,"p":1840.37,"p2":1838.17}]},"mark":{"type":"rect","fillOpacity":0,"stroke":"#F03C3C","strokeWidth":1.3,"clip":false},
 "encoding":{"x":{"field":"i","type":"quantitative","scale":{"domain":[-0.425,196.325],"nice":false,"zero":false},"axis":null},"x2":{"field":"i2"},"y":{"field":"p","type":"quantitative","scale":{"domain":[1805.45,1871.56],"nice":false,"zero":false},"axis":null},"y2":{"field":"p2"}}},
{"data":{"values":[{"t":"1845","i":186.6,"p":1843.9},{"t":"1838-40","i":175.8,"p":1839.2},{"t":"1830","i":186.3,"p":1830.7}]},"mark":{"type":"text","align":"left","baseline":"middle","fontSize":17,"font":"Liberation Sans","color":"#F03C3C","clip":false},
 "encoding":{"x":{"field":"i","type":"quantitative","scale":{"domain":[-0.425,196.325],"nice":false,"zero":false},"axis":null},"y":{"field":"p","type":"quantitative","scale":{"domain":[1805.45,1871.56],"nice":false,"zero":false},"axis":null},"text":{"field":"t"}}},
{"data":{"values":[{"t":"黄金1小时图","i":145.6,"p":1818.7}]},"mark":{"type":"text","align":"center","baseline":"middle","fontSize":26,"font":"Noto Sans CJK SC","color":"#F03C3C","clip":false},
 "encoding":{"x":{"field":"i","type":"quantitative","scale":{"domain":[-0.425,196.325],"nice":false,"zero":false},"axis":null},"y":{"field":"p","type":"quantitative","scale":{"domain":[1805.45,1871.56],"nice":false,"zero":false},"axis":null},"text":{"field":"t"}}},
{"data":{"name":"arrowsMain"},"mark":{"type":"trail","color":"#000000","clip":false},
 "encoding":{"x":{"field":"i","type":"quantitative","scale":{"domain":[-0.425,196.325],"nice":false,"zero":false},"axis":null},"y":{"field":"p","type":"quantitative","scale":{"domain":[1805.45,1871.56],"nice":false,"zero":false},"axis":null},
 "size":{"field":"part","type":"ordinal","scale":{"type":"ordinal","domain":["s0","s1","h0","h1","r0","r1","q0","q1"],"range":[1,3.5,9,0,1,2.4,8,0]},"legend":null},"detail":{"field":"seg"},"order":{"field":"k"}}},
{"data":{"name":"arrowsRed"},"mark":{"type":"trail","color":"#F03C3C","clip":false},
 "encoding":{"x":{"field":"i","type":"quantitative","scale":{"domain":[-0.425,196.325],"nice":false,"zero":false},"axis":null},"y":{"field":"p","type":"quantitative","scale":{"domain":[1805.45,1871.56],"nice":false,"zero":false},"axis":null},
 "size":{"field":"part","type":"ordinal","scale":{"type":"ordinal","domain":["s0","s1","h0","h1","r0","r1","q0","q1"],"range":[1,3.5,9,0,1,2.4,8,0]},"legend":null},"detail":{"field":"seg"},"order":{"field":"k"}}}
]
},
{
"width":787,"height":93,
"resolve":{"axis":{"x":"independent","y":"independent"}},
"layer":[
{"data":{"values":[{"v":200},{"v":0},{"v":-200}]},"mark":{"type":"rule","color":"#BDBDBD","strokeDash":[4,3],"strokeWidth":1},
 "encoding":{"y":{"field":"v","type":"quantitative","scale":{"domain":[-312,395],"nice":false,"zero":false},
  "axis":{"orient":"right","title":null,"values":[380.9236,200,0,-200,-305.37],"labelExpr":"datum.value == 0 ? '0.00' : datum.value > 380 ? '380.9236' : datum.value < -300 ? '-305.370' : datum.value < 0 ? '-200' : '200'","labelFontSize":8.5,"labelFont":"Liberation Sans","labelColor":"#000000","tickColor":"#000000","tickSize":3,"labelPadding":0,"domainColor":"#000000","labelOverlap":false,"labelFlush":6,"zindex":1}}}},
{"data":{"name":"cci"},"mark":{"type":"line","color":"#000000","strokeWidth":1,"clip":true},
 "encoding":{"x":{"field":"i","type":"quantitative","scale":{"domain":[-0.425,196.325],"nice":false,"zero":false},"axis":{"orient":"top","labels":false,"ticks":false,"title":null,"domainColor":"#000000","grid":false}},"y":{"field":"v","type":"quantitative","scale":{"domain":[-312,395],"nice":false,"zero":false},"axis":null}}},
{"data":{"name":"arrowsCci"},"mark":{"type":"trail","color":"#000000","clip":false},
 "encoding":{"x":{"field":"i","type":"quantitative","scale":{"domain":[-0.425,196.325],"nice":false,"zero":false},"axis":null},"y":{"field":"v","type":"quantitative","scale":{"domain":[-312,395],"nice":false,"zero":false},"axis":null},
 "size":{"field":"part","type":"ordinal","scale":{"type":"ordinal","domain":["s0","s1","h0","h1"],"range":[1,3.5,9,0]},"legend":null},"detail":{"field":"seg"},"order":{"field":"k"}}}
]
}
]
}
